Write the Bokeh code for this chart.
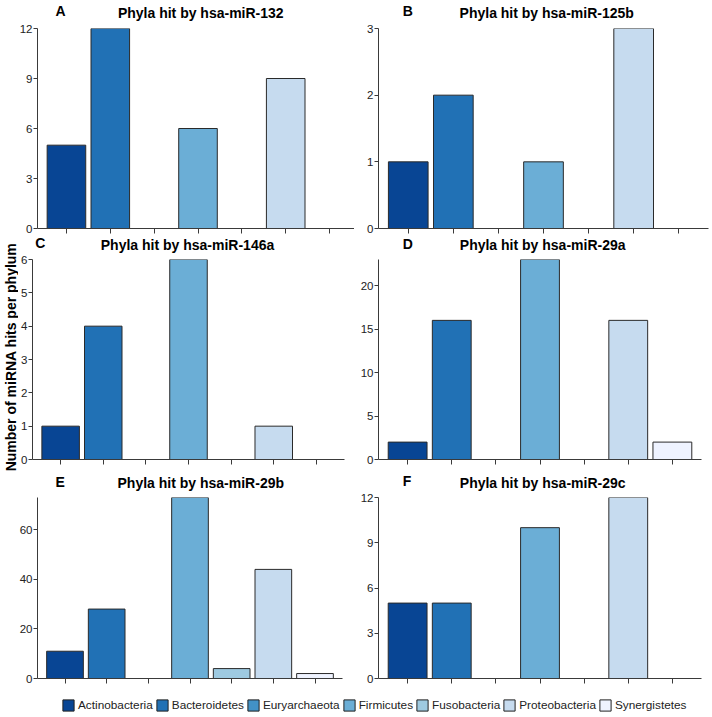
import math
from bokeh.plotting import figure
from bokeh.models import (FactorRange, Range1d, FixedTicker, Label, Legend,
                          LegendItem, ColumnDataSource)
from bokeh.layouts import column, row
from bokeh.embed import file_html
from bokeh.resources import INLINE

# ---------------- data ----------------
phyla = ["Actinobacteria", "Bacteroidetes", "Euryarchaeota", "Firmicutes",
         "Fusobacteria", "Proteobacteria", "Synergistetes"]
colors = ["#084594", "#2171b5", "#4292c6", "#6baed6", "#9ecae1", "#c6dbef", "#eff3ff"]

mir132 = [5, 12, 0, 6, 0, 9, 0]
mir125b = [1, 2, 0, 1, 0, 3, 0]
mir146a = [1, 4, 0, 6, 0, 1, 0]
mir29a = [2, 16, 0, 23, 0, 16, 2]
mir29b = [11, 28, 0, 73, 4, 44, 2]
mir29c = [5, 5, 0, 10, 0, 12, 0]

ticks_132 = [0, 3, 6, 9, 12]
ticks_125b = [0, 1, 2, 3]
ticks_146a = [0, 1, 2, 3, 4, 5, 6]
ticks_29a = [0, 5, 10, 15, 20]
ticks_29b = [0, 20, 40, 60]
ticks_29c = [0, 3, 6, 9, 12]

titles = ["Phyla hit by hsa-miR-132", "Phyla hit by hsa-miR-125b",
          "Phyla hit by hsa-miR-146a", "Phyla hit by hsa-miR-29a",
          "Phyla hit by hsa-miR-29b", "Phyla hit by hsa-miR-29c"]
letters = ["A", "B", "C", "D", "E", "F"]
ylabel = "Number of miRNA hits per phylum"

FONT = "Liberation Sans"
AXIS_COLOR = "#3a3a3a"
TEXT_COLOR = "#222222"


def blank(w, h):
    p = figure(width=w, height=h, x_range=Range1d(0, w), y_range=Range1d(0, h),
               min_border=0, toolbar_location=None, output_backend="svg")
    p.axis.visible = False
    p.grid.visible = False
    p.outline_line_color = None
    return p


def strip(w, h, letter, letter_x, letter_base, title, title_cx, title_base):
    # *_base: anchor of the text measured from the strip's top edge
    p = blank(w, h)
    p.add_layout(Label(x=letter_x, y=h - letter_base, text=letter, text_align="left",
                       text_baseline="alphabetic", text_font=FONT,
                       text_font_style="bold", text_font_size="14px",
                       text_color="black"))
    p.add_layout(Label(x=title_cx, y=h - title_base, text=title, text_align="center",
                       text_baseline="alphabetic", text_font=FONT,
                       text_font_style="bold", text_font_size="14px",
                       text_color="black"))
    return p


def panel(vals, ticks, fig_w, fig_h, left, top, fw, fh):
    right = fig_w - left - fw
    bottom = fig_h - top - fh
    p = figure(x_range=FactorRange(factors=phyla, range_padding=0.16,
                                   range_padding_units="absolute"),
               y_range=Range1d(0, max(vals)),
               frame_width=fw, frame_height=fh,
               min_border_left=left, min_border_right=right,
               min_border_top=top, min_border_bottom=bottom,
               toolbar_location=None, output_backend="svg")
    src = ColumnDataSource(dict(x=phyla, top=vals, color=colors))
    p.vbar(x="x", top="top", width=0.88, source=src, fill_color="color",
           line_color="#2a2a2a", line_width=1)
    p.xgrid.visible = False
    p.ygrid.visible = False
    p.outline_line_color = None

    p.yaxis.ticker = FixedTicker(ticks=ticks)
    p.yaxis.minor_tick_line_color = None
    p.yaxis.major_tick_out = 4
    p.yaxis.major_tick_in = 0
    p.yaxis.major_label_standoff = 1
    p.yaxis.major_label_text_font = FONT
    p.yaxis.major_label_text_font_size = "11.5px"
    p.yaxis.major_label_text_color = TEXT_COLOR
    p.yaxis.axis_line_color = AXIS_COLOR
    p.yaxis.major_tick_line_color = AXIS_COLOR

    # category ticks without labels
    p.xaxis.major_tick_out = 5
    p.xaxis.major_tick_in = 0
    p.xaxis.major_label_text_font_size = "0px"
    p.xaxis.major_label_text_color = None
    p.xaxis.major_label_standoff = 0
    p.xaxis.axis_line_color = AXIS_COLOR
    p.xaxis.major_tick_line_color = AXIS_COLOR
    return p


LW, RW = 354, 358
YW = 18  # width of the strip holding the shared y-axis label

# row 1
sA = strip(LW, 22, letters[0], 21, 10, titles[0], (29 + 350) / 2, 12)
sB = strip(RW, 22, letters[1], 27, 10, titles[1], 22 + 330 / 2, 12)
pA = panel(mir132, ticks_132, LW, 214, 29, 6, 321, 200)
pB = panel(mir125b, ticks_125b, RW, 214, 22, 6, 330, 200)

# row 2
sC = strip(LW - YW, 17, letters[2], 3, 6, titles[2], 12 + 312 / 2, 8)
sD = strip(RW, 17, letters[3], 27, 7, titles[3], 21 + 323 / 2, 8)
pC = panel(mir146a, ticks_146a, LW - YW, 219, 12, 6, 312, 200)
pD = panel(mir29a, ticks_29a, RW, 219, 21, 6, 323, 200)

ylab = blank(YW, 17 + 219)
ylab.add_layout(Label(x=10, y=(17 + 219) - 120.5, text=ylabel, angle=math.pi / 2,
                      text_align="center", text_baseline="middle",
                      text_font=FONT, text_font_style="bold",
                      text_font_size="14px", text_color="black"))

# row 3
sE = strip(LW, 19, letters[4], 21, 9, titles[4], 37 + 305 / 2, 10)
sF = strip(RW, 19, letters[5], 27, 8, titles[5], 21 + 323 / 2, 10)
pE = panel(mir29b, ticks_29b, LW, 199, 37, 6, 305, 181)
pF = panel(mir29c, ticks_29c, RW, 199, 21, 6, 323, 181)

# legend strip
pL = figure(x_range=FactorRange(factors=phyla), y_range=Range1d(1, 2),
            width=LW + RW, height=26, min_border=0,
            toolbar_location=None, output_backend="svg")
lsrc = ColumnDataSource(dict(x=phyla, top=[0] * len(phyla), color=colors))
lr = pL.vbar(x="x", top="top", width=0, source=lsrc, fill_color="color",
             line_color="#222222", line_width=1)
pL.axis.visible = False
pL.grid.visible = False
pL.outline_line_color = None
leg = Legend(items=[LegendItem(label=ph, renderers=[lr], index=i)
                    for i, ph in enumerate(phyla)],
             orientation="horizontal", location=(61, 4),
             glyph_width=14, glyph_height=14, label_standoff=3, spacing=2,
             padding=0, margin=0, border_line_color=None,
             background_fill_alpha=0, label_text_font=FONT,
             label_text_font_size="11.8px", label_text_color=TEXT_COLOR,
             label_height=14)
pL.add_layout(leg, "center")

left_col = column(sA, pA, row(ylab, column(sC, pC)), sE, pE)
right_col = column(sB, pB, sD, pD, sF, pF)
layout = column(row(left_col, right_col), pL)

with open("out.html", "w") as f:
    f.write(file_html(layout, INLINE))
